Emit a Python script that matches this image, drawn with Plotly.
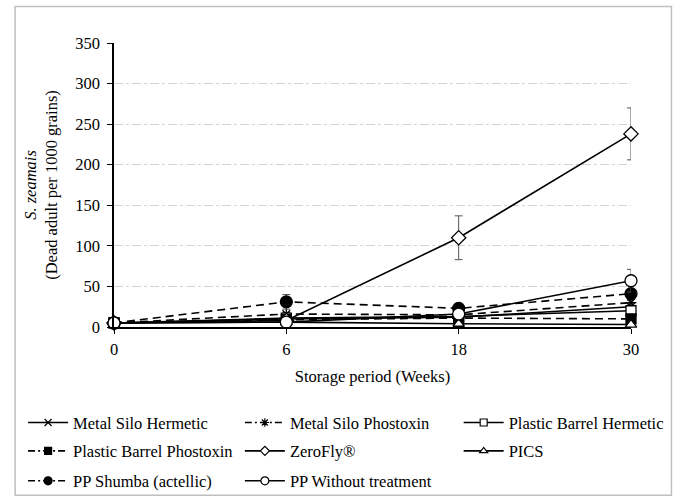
import plotly.graph_objects as go

# ---------------- data ----------------
weeks = ["0", "6", "18", "30"]
series_names = [
    "Metal Silo Hermetic",
    "Metal Silo Phostoxin",
    "Plastic Barrel Hermetic",
    "Plastic Barrel Phostoxin",
    "ZeroFly®",
    "PICS",
    "PP Shumba (actellic)",
    "PP Without treatment",
]
metal_silo_hermetic = [5, 10, 12, 25]
metal_silo_phostoxin = [5, 16, 15, 30]
plastic_barrel_hermetic = [5, 11, 13, 20]
plastic_barrel_phostoxin = [5, 9, 11, 10]
zerofly = [5, 8, 110, 238]
pics = [5, 6, 4, 3]
pp_shumba = [5, 31, 23, 41]
pp_without = [5, 6, 16, 57]

err_metal_silo_hermetic = [0, 1, 1, 2]
err_metal_silo_phostoxin = [0, 2, 1, 3]
err_plastic_barrel_hermetic = [0, 1, 1, 2]
err_plastic_barrel_phostoxin = [0, 1, 1, 1]
err_zerofly = [0, 2, 27, 32]
err_pics = [0, 1, 1, 1]
err_pp_shumba = [0, 9, 4, 4]
err_pp_without = [0, 1, 2, 14]

# ---------------- layout constants (pixels) ----------------
W, H = 678, 500
L, R = 114, 631.5
T, B = 42.7, 327.3
PW, PH = R - L, B - T


def px(xp):
    return (xp - L) / PW


def py(yp):
    return (B - yp) / PH


FONT = "Liberation Serif, Times New Roman, serif"
FS = 16.5

values = [metal_silo_hermetic, metal_silo_phostoxin, plastic_barrel_hermetic,
          plastic_barrel_phostoxin, zerofly, pics, pp_shumba, pp_without]
errors = [err_metal_silo_hermetic, err_metal_silo_phostoxin, err_plastic_barrel_hermetic,
          err_plastic_barrel_phostoxin, err_zerofly, err_pics, err_pp_shumba, err_pp_without]
styles = [
    dict(symbol="x-thin-open", fill="black", dash="solid", size=9, lsize=7),
    dict(symbol="asterisk-open", fill="black", dash="dash", size=9, lsize=7),
    dict(symbol="square", fill="white", dash="solid", size=10, lsize=7),
    dict(symbol="square", fill="black", dash="dash", size=10, lsize=7),
    dict(symbol="diamond", fill="white", dash="solid", size=11, lsize=7),
    dict(symbol="triangle-up", fill="white", dash="solid", size=10, lsize=7),
    dict(symbol="circle", fill="black", dash="dash", size=12, lsize=8),
    dict(symbol="circle", fill="white", dash="solid", size=12, lsize=8),
]

legend_ids = ["legend", "legend2", "legend3", "legend4", "legend5", "legend6", "legend7", "legend8"]
col_x = [23, 240, 459]
row_y = [423.3, 451.7, 481.7]

xpos = list(range(len(weeks)))

fig = go.Figure()
for i, (name, vals, errs, st) in enumerate(zip(series_names, values, errors, styles)):
    dash = "8px,5px" if st["dash"] == "dash" else "solid"
    fig.add_trace(go.Scatter(
        x=xpos, y=vals, name=name, mode="lines+markers",
        line=dict(color="black", width=1.6, dash=dash),
        marker=dict(symbol=st["symbol"], size=st["size"], color=st["fill"],
                    line=dict(color="black", width=1.3)),
        error_y=dict(type="data", array=errs, visible=True, color="#555555",
                     thickness=1, width=4),
        cliponaxis=False,
        showlegend=False,
    ))
    # legend entry with smaller symbol (no data drawn)
    fig.add_trace(go.Scatter(
        x=[None], y=[None], name=name, mode="lines+markers",
        line=dict(color="black", width=1.6, dash="7px,3px,2px,3px" if st["dash"] == "dash" else "solid"),
        marker=dict(symbol=st["symbol"], size=st["lsize"], color=st["fill"],
                    line=dict(color="black", width=1.2)),
        legend=legend_ids[i], showlegend=True, hoverinfo="skip",
    ))

layout_legends = {}
for i, lid in enumerate(legend_ids):
    r, c = divmod(i, 3)
    layout_legends[lid] = dict(
        x=px(col_x[c]), y=py(row_y[r]), xanchor="left", yanchor="middle",
        orientation="h", bgcolor="rgba(0,0,0,0)", itemwidth=40,
        font=dict(family=FONT, size=FS, color="black"),
    )

fig.update_layout(
    width=W, height=H,
    margin=dict(l=L, r=W - R, t=T, b=H - B, pad=0, autoexpand=False),
    paper_bgcolor="white", plot_bgcolor="white",
    font=dict(family=FONT, size=FS, color="black"),
    showlegend=True,
    xaxis=dict(
        range=[0, 3], tickmode="array", tickvals=xpos, ticktext=weeks,
        showline=True, linecolor="black", linewidth=1.5,
        ticks="outside", ticklen=5, tickcolor="black", tickwidth=1.2,
        showgrid=False, zeroline=False, ticklabelstandoff=1,
        title=dict(text="Storage period (Weeks)", font=dict(family=FONT, size=FS), standoff=13),
        tickfont=dict(family=FONT, size=FS),
    ),
    yaxis=dict(
        range=[0, 350], tickmode="array", tickvals=[0, 50, 100, 150, 200, 250, 300, 350],
        showline=True, linecolor="black", linewidth=1.5,
        ticks="outside", ticklen=5, tickcolor="black", tickwidth=1.2,
        showgrid=True, gridcolor="#d4d4d4", gridwidth=1, griddash="dashdot",
        zeroline=False, ticklabelstandoff=4,
        title=dict(text="<i>S. zeamais</i><br>(Dead adult per 1000 grains)",
                   font=dict(family=FONT, size=FS), standoff=13),
        tickfont=dict(family=FONT, size=FS),
    ),
    shapes=[dict(type="rect", xref="paper", yref="paper",
                 x0=px(15), x1=px(672), y0=py(496), y1=py(6),
                 line=dict(color="#bfbfbf", width=1.5), fillcolor="rgba(0,0,0,0)",
                 layer="below")],
    **layout_legends,
)

fig.write_html("out.html")
